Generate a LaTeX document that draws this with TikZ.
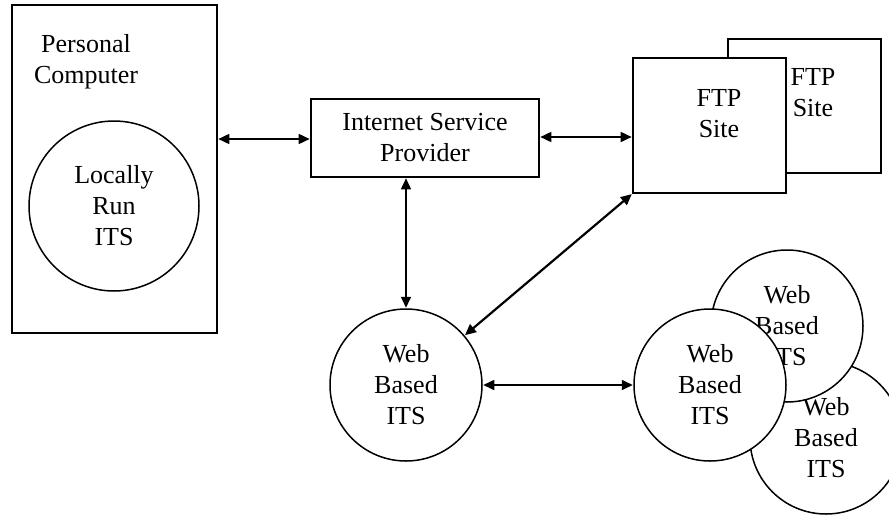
\documentclass[tikz,border=0pt]{standalone}
\usepackage{fontspec}
\setmainfont{Liberation Serif}
\usetikzlibrary{arrows.meta}
\tikzset{
  box/.style={draw, line width=1.6pt, fill=white, inner sep=0pt},
  circ/.style={draw, circle, line width=1.5pt, fill=white, inner sep=0pt, minimum size=152pt, align=center},
  lbl/.style={align=center, inner sep=0pt},
  arr/.style={line width=1.6pt, {Triangle[length=11pt,width=10pt]}-{Triangle[length=11pt,width=10pt]}, shorten <=0.5pt, shorten >=0.5pt}
}
\begin{document}
\begin{tikzpicture}[x=1pt,y=-1pt, font=\fontsize{26}{31}\selectfont]
\useasboundingbox (0,0) rectangle (889,517);
% Personal computer
\node[box, minimum width=205pt, minimum height=328pt] (pc) at (114.5,169) {};
\node[lbl] (pctext) at (86,62) {Personal\\Computer};
\node[circ, minimum size=170pt] (local) at (114,206) {Locally\\Run\\ITS};
% ISP
\node[box, minimum width=228pt, minimum height=78pt, align=center] (isp) at (425,138) {Internet Service\\Provider};
% FTP sites
\node[box, minimum width=153pt, minimum height=134pt] (ftpb) at (804.5,106) {};
\node[lbl] (ftpbtext) at (813,93) {FTP\\Site};
\node[box, minimum width=153pt, minimum height=135pt] (ftp) at (709.5,125.5) {};
\node[lbl] (ftptext) at (719,114) {FTP\\Site};
% Web based ITS
\node[circ] (web) at (406,385) {Web\\Based\\ITS};
\node[circ] (webc) at (826,438) {Web\\Based\\ITS};
\node[circ] (webb) at (787,326) {Web\\Based\\ITS};
\node[circ] (weba) at (710,385) {Web\\Based\\ITS};
% connectors
\draw[arr] (pc.east |- 0,139) -- (isp.west |- 0,139);
\draw[arr] (isp.east |- 0,137) -- (ftp.west |- 0,137);
\draw[arr] (web.north |- isp.south) -- (web.north);
\draw[arr, line width=2.2pt] (ftp.south west) -- (web);
\draw[arr] (web.east) -- (weba.west);
\end{tikzpicture}
\end{document}
